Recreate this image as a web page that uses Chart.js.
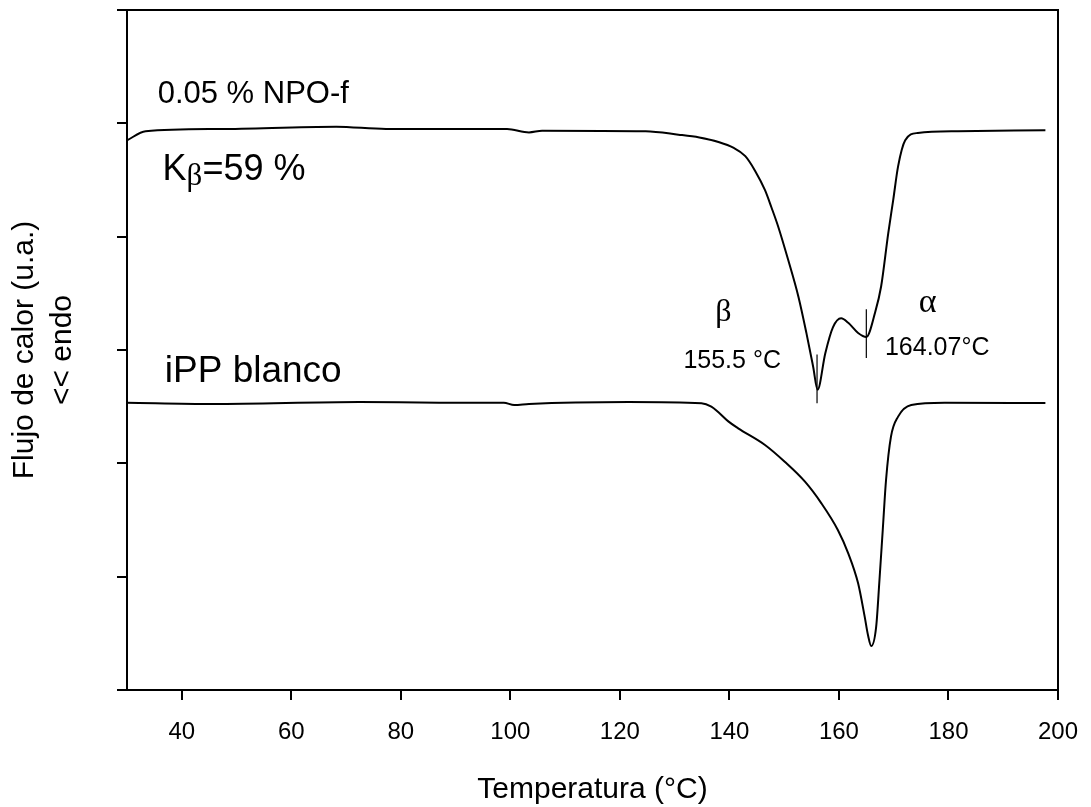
<!DOCTYPE html>
<html>
<head>
<meta charset="utf-8">
<script src="https://cdn.jsdelivr.net/npm/chart.js@4.4.1/dist/chart.umd.min.js"></script>
<style>
  body { margin: 0; background: #fff; }
  canvas { display: block; }
</style>
</head>
<body>
<canvas id="dscChart" width="1091" height="807"></canvas>
<script>
// temperatura (°C) y flujo de calor (u.a.)
const tempNPO = [30.0, 33.4, 46.9, 68.2, 77.3, 99.4, 103.4, 105.8, 124.7, 130.7, 134.5, 138.0, 140.7, 142.9, 144.7, 146.5, 147.7, 148.9, 150.7, 152.6, 154.1, 155.3, 156.1, 157.5, 158.9, 160.4, 161.7, 163.5, 165.0, 166.6, 167.7, 169.0, 169.9, 170.8, 172.1, 174.4, 181.7, 197.7];
const flowNPO = [4.85, 4.93, 4.95, 4.97, 4.95, 4.95, 4.92, 4.935, 4.93, 4.90, 4.875, 4.835, 4.785, 4.71, 4.58, 4.41, 4.255, 4.09, 3.80, 3.47, 3.14, 2.85, 2.65, 2.97, 3.20, 3.28, 3.24, 3.15, 3.115, 3.33, 3.56, 4.03, 4.32, 4.62, 4.85, 4.915, 4.93, 4.94];

const tempIPP = [30.0, 45.6, 72.4, 87.0, 98.8, 100.7, 103.4, 121.6, 134.9, 136.7, 138.0, 139.8, 141.6, 146.5, 150.1, 153.8, 156.8, 159.8, 161.7, 163.5, 164.7, 165.3, 165.9, 166.8, 167.4, 168.0, 168.6, 169.5, 170.8, 173.2, 179.3, 197.7];
const flowIPP = [2.535, 2.524, 2.541, 2.535, 2.535, 2.515, 2.524, 2.541, 2.53, 2.50, 2.45, 2.37, 2.309, 2.162, 2.014, 1.838, 1.647, 1.412, 1.206, 0.941, 0.647, 0.485, 0.388, 0.559, 0.971, 1.412, 1.853, 2.235, 2.412, 2.515, 2.535, 2.532];

// marcas verticales de los picos beta y alfa
const betaMarkX = [156.0, 156.0];
const betaMarkY = [2.53, 2.96];
const alphaMarkX = [165.0, 165.0];
const alphaMarkY = [2.93, 3.36];

const xTicks = [40, 60, 80, 100, 120, 140, 160, 180, 200];
const yTicks = [0, 1, 2, 3, 4, 5, 6];

function toPoints(xs, ys) {
  return xs.map((x, i) => ({ x: x, y: ys[i] }));
}

const sans = 'Arial, "Liberation Sans"';
const serif = '"Liberation Serif", "Times New Roman", serif';

// textos: [texto, x, y, fuente, alineacion]
const labels = [
  ['0.05 % NPO-f', 35.6, 5.18, '31px ' + sans, 'left'],
  ['iPP blanco', 36.9, 2.718, '37px ' + sans, 'left'],
  ['155.5 °C', 131.6, 2.841, '25px ' + sans, 'left'],
  ['164.07°C', 168.4, 2.956, '25px ' + sans, 'left'],
  ['β', 138.9, 3.256, '32px ' + serif, 'center'],
  ['α', 176.2, 3.335, '34px ' + serif, 'center']
];

const annotations = {
  id: 'annotations',
  afterDatasetsDraw(chart) {
    const ctx = chart.ctx;
    const xs = chart.scales.x;
    const ys = chart.scales.y;
    const area = chart.chartArea;
    ctx.save();
    // marco superior y derecho
    ctx.strokeStyle = '#000';
    ctx.lineWidth = 2;
    ctx.beginPath();
    ctx.moveTo(area.left, area.top);
    ctx.lineTo(area.right, area.top);
    ctx.lineTo(area.right, area.bottom);
    ctx.stroke();

    ctx.fillStyle = '#000';
    ctx.textBaseline = 'alphabetic';
    labels.forEach(l => {
      ctx.font = l[3];
      ctx.textAlign = l[4];
      ctx.fillText(l[0], xs.getPixelForValue(l[1]), ys.getPixelForValue(l[2]));
    });

    // K subindice beta
    let px = xs.getPixelForValue(36.5);
    const py = ys.getPixelForValue(4.5);
    ctx.textAlign = 'left';
    ctx.font = '36px ' + sans;
    ctx.fillText('K', px, py);
    px += ctx.measureText('K').width;
    ctx.font = '31px ' + serif;
    ctx.fillText('β', px, py + 5);
    px += ctx.measureText('β').width;
    ctx.font = '36px ' + sans;
    ctx.fillText('=59 %', px, py);
    ctx.restore();
  }
};

Chart.defaults.font.family = 'Arial, "Liberation Sans", sans-serif';
Chart.defaults.color = '#000';

const lineStyle = {
  borderColor: '#000',
  borderWidth: 2,
  pointRadius: 0,
  fill: false,
  cubicInterpolationMode: 'monotone'
};

new Chart(document.getElementById('dscChart'), {
  type: 'line',
  data: {
    datasets: [
      Object.assign({ label: '0.05 % NPO-f', data: toPoints(tempNPO, flowNPO) }, lineStyle),
      Object.assign({ label: 'iPP blanco', data: toPoints(tempIPP, flowIPP) }, lineStyle),
      { label: 'beta', data: toPoints(betaMarkX, betaMarkY), borderColor: '#000', borderWidth: 1.2, pointRadius: 0 },
      { label: 'alfa', data: toPoints(alphaMarkX, alphaMarkY), borderColor: '#000', borderWidth: 1.2, pointRadius: 0 }
    ]
  },
  options: {
    responsive: false,
    animation: false,
    layout: { padding: { top: 10, right: 33, bottom: 0, left: 0 } },
    plugins: {
      legend: { display: false },
      tooltip: { enabled: false }
    },
    scales: {
      x: {
        type: 'linear',
        min: 30,
        max: 200,
        afterBuildTicks: axis => { axis.ticks = xTicks.map(v => ({ value: v })); },
        afterFit: axis => {
          axis.height = 117;
          axis.paddingLeft = 0;
          axis.paddingRight = 0;
        },
        ticks: { font: { size: 24 }, padding: 18, maxRotation: 0 },
        grid: { drawOnChartArea: false, color: '#000', lineWidth: 2, tickLength: 10 },
        border: { color: '#000', width: 2 },
        title: { display: true, text: 'Temperatura (°C)', font: { size: 30, lineHeight: 1.1 }, padding: { top: 0, bottom: 1 } }
      },
      y: {
        min: 0,
        max: 6,
        afterBuildTicks: axis => { axis.ticks = yTicks.map(v => ({ value: v })); },
        afterFit: axis => { axis.width = 127; },
        ticks: { display: false },
        grid: { drawOnChartArea: false, color: '#000', lineWidth: 2, tickLength: 10 },
        border: { color: '#000', width: 2 },
        title: {
          display: true,
          text: ['Flujo de calor (u.a.)', '<< endo'],
          font: { size: 30, lineHeight: 1.27 },
          padding: { top: 6, bottom: 0 }
        }
      }
    }
  },
  plugins: [annotations]
});
</script>
</body>
</html>
